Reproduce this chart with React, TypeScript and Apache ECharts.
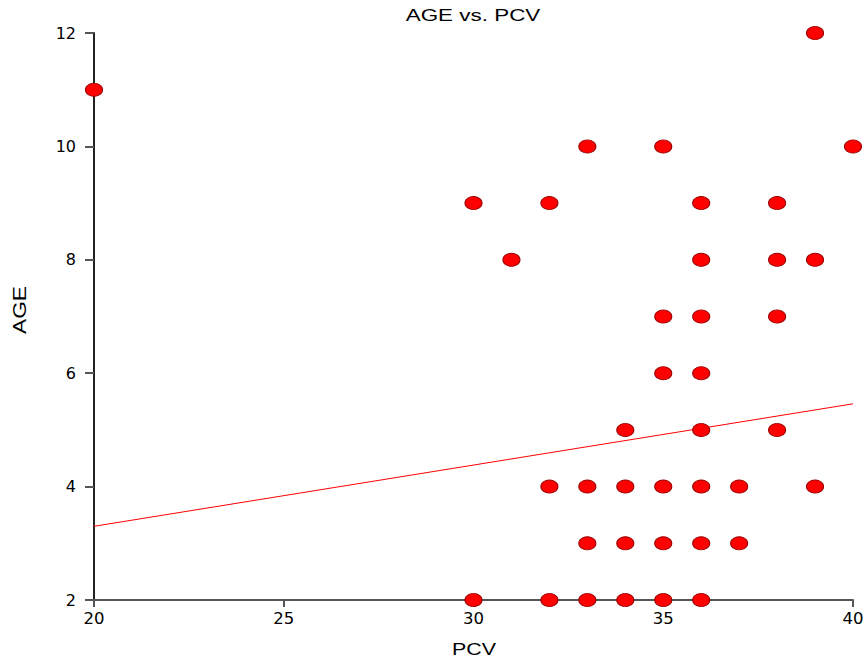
import React, { useEffect, useRef } from "react";
import * as echarts from "echarts";

const pcv = [20, 39, 33, 35, 40, 30, 32, 36, 38, 31, 36, 38, 39, 35, 36, 38, 35, 36, 34, 36, 38, 32, 33, 34, 35, 36, 37, 39, 33, 34, 35, 36, 37, 30, 32, 33, 34, 35, 36];
const age = [11, 12, 10, 10, 10, 9, 9, 9, 9, 8, 8, 8, 8, 7, 7, 7, 6, 6, 5, 5, 5, 4, 4, 4, 4, 4, 4, 4, 3, 3, 3, 3, 3, 2, 2, 2, 2, 2, 2];
const fitX = [20, 40];
const fitY = [3.3, 5.46];
const xTicks = [20, 25, 30, 35, 40];
const yTicks = [2, 4, 6, 8, 10, 12];
const titleText = "AGE vs. PCV";
const xName = "PCV";
const yName = "AGE";

export default function App() {
  const ref = useRef<HTMLDivElement>(null);
  useEffect(() => {
    const chart = echarts.init(ref.current!, null, { renderer: "svg" });
    const font = "'Liberation Sans', Arial, sans-serif";
    const tickFont = "'DejaVu Sans', sans-serif";
    chart.setOption({
      animation: false,
      backgroundColor: "#ffffff",
      graphic: [
        {
          type: "text",
          x: 473,
          y: 15,
          scaleX: 1.32,
          style: {
            text: titleText,
            fontFamily: font,
            fontSize: 17,
            fill: "#000",
            textAlign: "center",
            textVerticalAlign: "middle",
          },
        },
        {
          type: "text",
          x: 474,
          y: 649,
          scaleX: 1.26,
          style: {
            text: xName,
            fontFamily: font,
            fontSize: 17,
            fill: "#000",
            textAlign: "center",
            textVerticalAlign: "middle",
          },
        },
        {
          type: "text",
          x: 19.5,
          y: 310,
          rotation: Math.PI / 2,
          scaleX: 1.26,
          style: {
            text: yName,
            fontFamily: font,
            fontSize: 18,
            fill: "#000",
            textAlign: "center",
            textVerticalAlign: "middle",
          },
        },
      ],
      grid: { left: 94, right: 14, top: 33, bottom: 64 },
      xAxis: {
        type: "value",
        min: xTicks[0],
        max: xTicks[xTicks.length - 1],
        interval: 5,
        axisLine: { show: true, lineStyle: { color: "#555", width: 2 } },
        axisTick: { show: true, length: 7, lineStyle: { color: "#555", width: 2 } },
        axisLabel: { fontFamily: tickFont, fontSize: 16.5, color: "#000", margin: 10 },
        splitLine: { show: false },
      },
      yAxis: {
        type: "value",
        min: yTicks[0],
        max: yTicks[yTicks.length - 1],
        interval: 2,
        axisLine: { show: true, lineStyle: { color: "#222", width: 2 } },
        axisTick: { show: true, length: 9, lineStyle: { color: "#555", width: 2 } },
        axisLabel: { fontFamily: tickFont, fontSize: 16, color: "#000", margin: 18 },
        splitLine: { show: false },
      },
      series: [
        {
          type: "line",
          data: fitX.map((x, i) => [x, fitY[i]]),
          symbol: "none",
          lineStyle: { color: "#ff0000", width: 1 },
          z: 1,
        },
        {
          type: "scatter",
          data: pcv.map((x, i) => [x, age[i]]),
          symbol: "circle",
          symbolSize: [17, 13],
          itemStyle: { color: "#ff0000", borderColor: "#990000", borderWidth: 1, opacity: 1 },
          z: 3,
        },
      ],
    });
    return () => chart.dispose();
  }, []);
  return (
    <div
      ref={ref}
      style={{ position: "fixed", left: 0, top: 0, width: 867, height: 664 }}
    />
  );
}
